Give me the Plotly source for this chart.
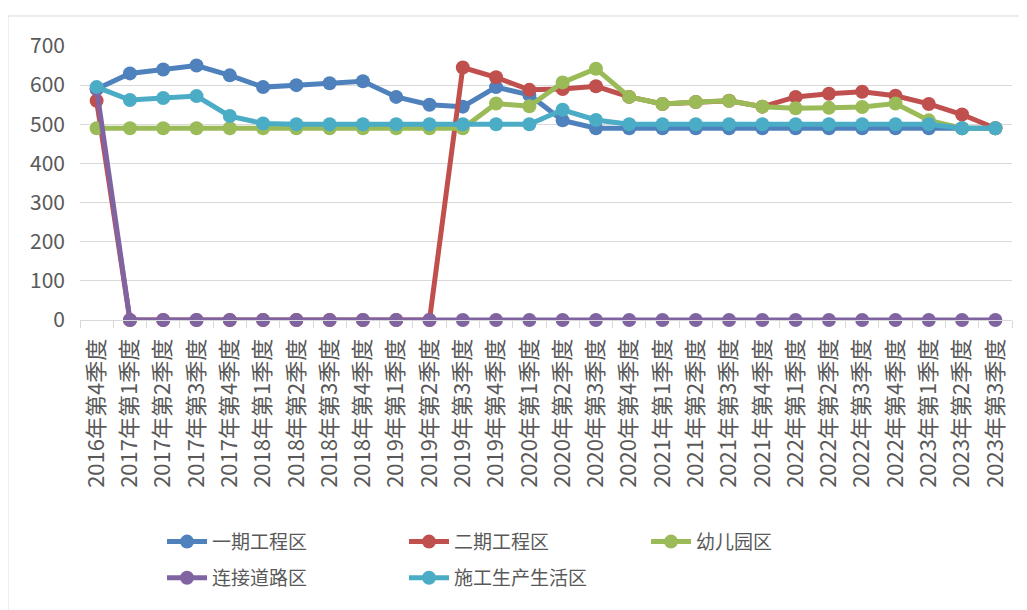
import plotly.graph_objects as go

categories = ["2016年第4季度",
              "2017年第1季度", "2017年第2季度", "2017年第3季度", "2017年第4季度",
              "2018年第1季度", "2018年第2季度", "2018年第3季度", "2018年第4季度",
              "2019年第1季度", "2019年第2季度", "2019年第3季度", "2019年第4季度",
              "2020年第1季度", "2020年第2季度", "2020年第3季度", "2020年第4季度",
              "2021年第1季度", "2021年第2季度", "2021年第3季度", "2021年第4季度",
              "2022年第1季度", "2022年第2季度", "2022年第3季度", "2022年第4季度",
              "2023年第1季度", "2023年第2季度", "2023年第3季度"]

phase1 = [590, 630, 640, 650, 625, 595, 600, 605, 610, 570, 550, 545, 595,
          575, 510, 490, 490, 490, 490, 490, 490, 490, 490, 490, 490, 490, 490, 490]
phase2 = [560, 0, 0, 0, 0, 0, 0, 0, 0, 0, 0, 645, 620,
          588, 590, 597, 570, 552, 557, 560, 545, 570, 578, 583, 573, 552, 525, 490]
kindergarten = [490, 490, 490, 490, 490, 490, 490, 490, 490, 490, 490, 490, 553,
                546, 607, 642, 570, 552, 557, 560, 545, 541, 542, 544, 553, 510, 490, 490]
road = [590, 0, 0, 0, 0, 0, 0, 0, 0, 0, 0, 0, 0,
        0, 0, 0, 0, 0, 0, 0, 0, 0, 0, 0, 0, 0, 0, 0]
camp = [595, 562, 567, 572, 521, 502, 500, 500, 500, 500, 500, 500, 500,
        500, 537, 511, 500, 500, 500, 500, 500, 500, 500, 500, 500, 500, 490, 490]

series_names = ["一期工程区", "二期工程区", "幼儿园区", "连接道路区", "施工生产生活区"]
series_values = [phase1, phase2, kindergarten, road, camp]
colors = ["#4F81BD", "#C0504D", "#9BBB59", "#8064A2", "#4BACC6"]
legend_rows = ["legend", "legend", "legend", "legend2", "legend2"]

fig = go.Figure()
for name, vals, col, lg in zip(series_names, series_values, colors, legend_rows):
    fig.add_trace(go.Scatter(
        x=categories, y=vals, name=name, mode="lines+markers",
        line=dict(color=col, width=5),
        marker=dict(color=col, size=14),
        cliponaxis=False, legend=lg,
    ))

font_family = "Noto Sans CJK SC, Noto Sans, sans-serif"
legend_common = dict(
    orientation="h", xanchor="left", yanchor="top",
    font=dict(size=19, color="#595959", family=font_family),
    entrywidth=187, entrywidthmode="pixels", itemwidth=40,
    bgcolor="rgba(0,0,0,0)",
)
fig.update_layout(
    width=1027, height=610,
    margin=dict(l=72, r=23, t=38, b=298, autoexpand=False),
    paper_bgcolor="white", plot_bgcolor="white",
    font=dict(family=font_family, color="#595959"),
    showlegend=True,
    legend=dict(x=0.088, y=-0.740, **legend_common),
    legend2=dict(x=0.088, y=-0.872, **legend_common),
    xaxis=dict(
        type="category", range=[-0.5, len(categories) - 0.5], automargin=False,
        tickangle=-90, tickfont=dict(size=22, color="#595959"),
        showline=True, linecolor="#d9d9d9", linewidth=1,
        ticks="outside", tickson="boundaries", ticklen=7, tickcolor="#d9d9d9",
        showgrid=False, ticklabelstandoff=9,
    ),
    yaxis=dict(
        range=[0, 700], dtick=100, tickfont=dict(size=21, color="#595959"),
        showgrid=True, gridcolor="#d9d9d9", gridwidth=1, automargin=False,
        zeroline=False, showline=False, ticklabelstandoff=14,
    ),
    shapes=[dict(type="rect", xref="paper", yref="paper",
                 x0=-0.0773, x1=1.05, y0=-1.3, y1=1.1095,
                 line=dict(color="#d9d9d9", width=1), fillcolor="rgba(0,0,0,0)",
                 layer="below")],
)

fig.write_html("out.html")
